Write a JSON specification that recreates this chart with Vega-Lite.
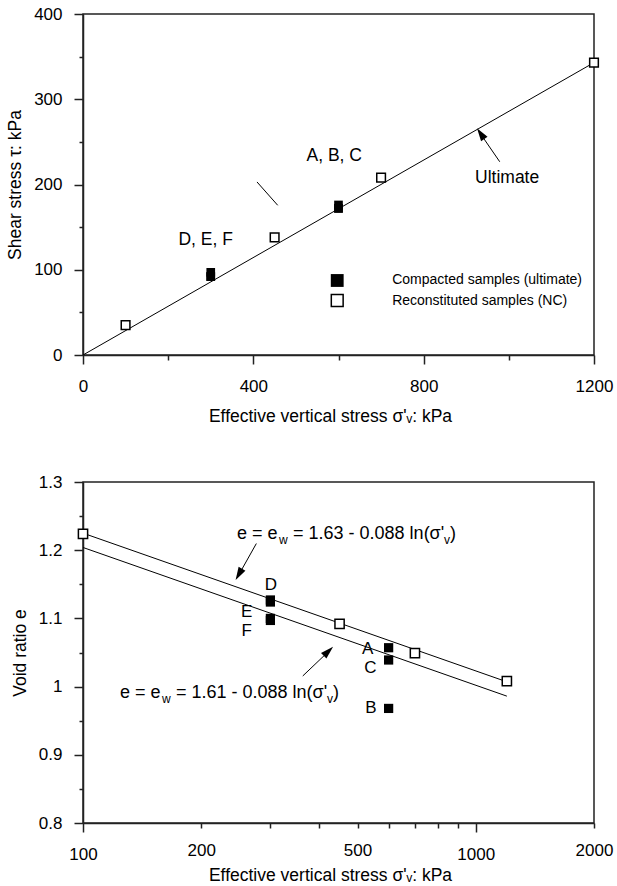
{
  "$schema": "https://vega.github.io/schema/vega-lite/v6.json",
  "background": "white",
  "padding": {"left": 5, "top": 4, "right": 5, "bottom": 0},
  "spacing": 46,
  "config": {
    "font": "Liberation Sans",
    "view": {"stroke": "#222", "strokeWidth": 1.5},
    "axis": {
      "grid": false,
      "domainColor": "#222",
      "domainWidth": 1.5,
      "tickColor": "#222",
      "tickWidth": 1.5,
      "labelColor": "black",
      "titleColor": "black",
      "labelFontSize": 17,
      "titleFontSize": 17.5,
      "titleFontWeight": "normal",
      "labelFlush": false,
      "labelOverlap": false,
      "labelBound": false
    },
    "axisX": {"labelPadding": 14},
    "axisY": {"labelPadding": 12, "titlePadding": 9}
  },
  "vconcat": [
    {
      "width": 511,
      "height": 341,
      "encoding": {
        "x": {
          "field": "x", "type": "quantitative",
          "scale": {"domain": [0, 1200], "nice": false, "zero": false},
          "axis": {
            "title": "Effective vertical stress σ'ᵥ: kPa",
            "values": [0, 200, 400, 600, 800, 1000, 1200],
            "format": "d",
            "labelExpr": "datum.value % 400 === 0 ? datum.label : ''",
            "tickSize": {"condition": {"test": "datum.value % 400 !== 0", "value": 5}, "value": 9},
            "titlePadding": 13,
            "titleX": 247
          }
        },
        "y": {
          "field": "y", "type": "quantitative",
          "scale": {"domain": [0, 400], "nice": false},
          "axis": {
            "title": "Shear stress τ: kPa",
            "values": [0, 50, 100, 150, 200, 250, 300, 350, 400],
            "labelExpr": "datum.value % 100 === 0 ? datum.label : ''",
            "tickSize": {"condition": {"test": "datum.value % 100 !== 0", "value": 4}, "value": 9}
          }
        }
      },
      "layer": [
        {
          "data": {"values": [{"x": 0, "y": 0}, {"x": 1200, "y": 343}]},
          "mark": {"type": "line", "color": "black", "strokeWidth": 1}
        },
        {
          "data": {"values": [{"x": 408.6, "y": 203, "x2": 457.3, "y2": 175.6}]},
          "mark": {"type": "rule", "color": "black", "strokeWidth": 1},
          "encoding": {"x2": {"field": "x2"}, "y2": {"field": "y2"}}
        },
        {
          "data": {"values": [{"x": 978.6, "y": 226.7, "x2": 930, "y2": 262}]},
          "mark": {"type": "rule", "color": "black", "strokeWidth": 1},
          "encoding": {"x2": {"field": "x2"}, "y2": {"field": "y2"}}
        },
        {
          "data": {"values": [{"x": 933.8, "y": 259.6}]},
          "mark": {"type": "point", "shape": "M0,-1L0.6,1L-0.6,1Z", "size": 169, "angle": 325.8, "filled": true, "color": "black", "opacity": 1}
        },
        {
          "data": {"values": [{"x": 100, "y": 35}, {"x": 450, "y": 138}, {"x": 700, "y": 208}, {"x": 1200, "y": 343}]},
          "mark": {"type": "point", "shape": "square", "size": 75, "fill": "white", "stroke": "black", "strokeWidth": 1.5, "opacity": 1}
        },
        {
          "data": {"values": [{"x": 300, "y": 97}, {"x": 300, "y": 92}, {"x": 300, "y": 92}, {"x": 600, "y": 176}, {"x": 600, "y": 172}, {"x": 600, "y": 172}]},
          "mark": {"type": "point", "shape": "square", "size": 75, "filled": true, "color": "black", "opacity": 1}
        },
        {
          "data": {"values": [{"x": 597, "y": 87.4}]},
          "mark": {"type": "point", "shape": "square", "size": 165, "filled": true, "color": "black", "opacity": 1}
        },
        {
          "data": {"values": [{"x": 597, "y": 63.9}]},
          "mark": {"type": "point", "shape": "square", "size": 140, "fill": "white", "stroke": "black", "strokeWidth": 1.5, "opacity": 1}
        },
        {
          "data": {"values": [{"x": 726, "y": 87.4, "label": "Compacted samples (ultimate)"}, {"x": 726, "y": 63.9, "label": "Reconstituted samples (NC)"}]},
          "mark": {"type": "text", "align": "left", "baseline": "middle", "fontSize": 14, "color": "black"},
          "encoding": {"text": {"field": "label"}}
        },
        {
          "data": {"values": [{"x": 590, "y": 233.4, "label": "A, B, C"}, {"x": 288, "y": 134.5, "label": "D, E, F"}, {"x": 996, "y": 207.6, "label": "Ultimate"}]},
          "mark": {"type": "text", "align": "center", "baseline": "middle", "fontSize": 17.5, "color": "black"},
          "encoding": {"text": {"field": "label"}}
        }
      ]
    },
    {
      "width": 511,
      "height": 341,
      "encoding": {
        "x": {
          "field": "x", "type": "quantitative",
          "scale": {"type": "log", "domain": [100, 2000], "nice": false},
          "axis": {
            "title": "Effective vertical stress σ'ᵥ: kPa",
            "values": [100, 200, 300, 400, 500, 600, 700, 800, 900, 1000, 2000],
            "format": "d",
            "labelExpr": "indexof([100, 200, 500, 1000, 2000], datum.value) >= 0 ? datum.label : ''",
            "tickSize": {"condition": {"test": "datum.value === 100 || datum.value === 1000", "value": 9}, "value": 5},
            "titlePadding": 4,
            "titleX": 247
          }
        },
        "y": {
          "field": "y", "type": "quantitative",
          "scale": {"domain": [0.8, 1.3], "nice": false, "zero": false},
          "axis": {
            "title": "Void ratio e",
            "values": [0.8, 0.85, 0.9, 0.95, 1, 1.05, 1.1, 1.15, 1.2, 1.25, 1.3],
            "labelExpr": "round(datum.value * 20) % 2 === 0 ? format(datum.value, '~g') : ''",
            "tickSize": {"condition": {"test": "round(datum.value * 20) % 2 === 1", "value": 4}, "value": 9}
          }
        }
      },
      "layer": [
        {
          "data": {"values": [{"x": 100, "y": 1.225, "line": "upper"}, {"x": 1200, "y": 1.007, "line": "upper"}, {"x": 100, "y": 1.204, "line": "lower"}, {"x": 1200, "y": 0.986, "line": "lower"}]},
          "mark": {"type": "line", "color": "black", "strokeWidth": 1},
          "encoding": {"detail": {"field": "line"}}
        },
        {
          "data": {"values": [{"x": 276.3, "y": 1.2098, "x2": 246.5, "y2": 1.159}, {"x": 362.7, "y": 1.0156, "x2": 428, "y2": 1.055}]},
          "mark": {"type": "rule", "color": "black", "strokeWidth": 1},
          "encoding": {"x2": {"field": "x2"}, "y2": {"field": "y2"}}
        },
        {
          "data": {"values": [{"x": 249.3, "y": 1.1645}]},
          "mark": {"type": "point", "shape": "M0,-1L0.6,1L-0.6,1Z", "size": 169, "angle": 209.5, "filled": true, "color": "black", "opacity": 1}
        },
        {
          "data": {"values": [{"x": 421.5, "y": 1.0519}]},
          "mark": {"type": "point", "shape": "M0,-1L0.6,1L-0.6,1Z", "size": 169, "angle": 46, "filled": true, "color": "black", "opacity": 1}
        },
        {
          "data": {"values": [{"x": 100, "y": 1.224}, {"x": 450, "y": 1.092}, {"x": 700, "y": 1.049}, {"x": 1200, "y": 1.008}]},
          "mark": {"type": "point", "shape": "square", "size": 85, "fill": "white", "stroke": "black", "strokeWidth": 1.5, "opacity": 1}
        },
        {
          "data": {"values": [{"x": 300, "y": 1.127}, {"x": 300, "y": 1.124}, {"x": 300, "y": 1.1}, {"x": 300, "y": 1.097}, {"x": 600, "y": 1.057}, {"x": 600, "y": 1.039}, {"x": 600, "y": 0.968}]},
          "mark": {"type": "point", "shape": "square", "size": 85, "filled": true, "color": "black", "opacity": 1}
        },
        {
          "data": {"values": [{"x": 301, "y": 1.149, "label": "D"}, {"x": 261, "y": 1.11, "label": "E"}, {"x": 261, "y": 1.082, "label": "F"}, {"x": 531, "y": 1.0546, "label": "A"}, {"x": 539, "y": 1.028, "label": "C"}, {"x": 541, "y": 0.968, "label": "B"}]},
          "mark": {"type": "text", "align": "center", "baseline": "middle", "fontSize": 17, "color": "black"},
          "encoding": {"text": {"field": "label"}}
        },
        {
          "data": {"name": "eq1", "values": [{"x": 246.7, "y": 1.217, "a": "e = e", "b": "w", "c": "= 1.63 - 0.088 ln(σ'", "d": "v", "f": ")"}, {"x": 124.2, "y": 0.9834, "a": "e = e", "b": "w", "c": "= 1.61 - 0.088 ln(σ'", "d": "v", "f": ")"}]},
          "layer": [
            {"mark": {"type": "text", "align": "left", "baseline": "alphabetic", "fontSize": 18, "color": "black"}, "encoding": {"text": {"field": "a"}}},
            {"mark": {"type": "text", "align": "left", "baseline": "alphabetic", "fontSize": 12, "dx": 42, "dy": 5, "color": "black"}, "encoding": {"text": {"field": "b"}}},
            {"mark": {"type": "text", "align": "left", "baseline": "alphabetic", "fontSize": 18, "dx": 56, "color": "black"}, "encoding": {"text": {"field": "c"}}},
            {"mark": {"type": "text", "align": "left", "baseline": "alphabetic", "fontSize": 12, "dx": 207, "dy": 5, "color": "black"}, "encoding": {"text": {"field": "d"}}},
            {"mark": {"type": "text", "align": "left", "baseline": "alphabetic", "fontSize": 18, "dx": 213, "color": "black"}, "encoding": {"text": {"field": "f"}}}
          ]
        }
      ]
    }
  ]
}
